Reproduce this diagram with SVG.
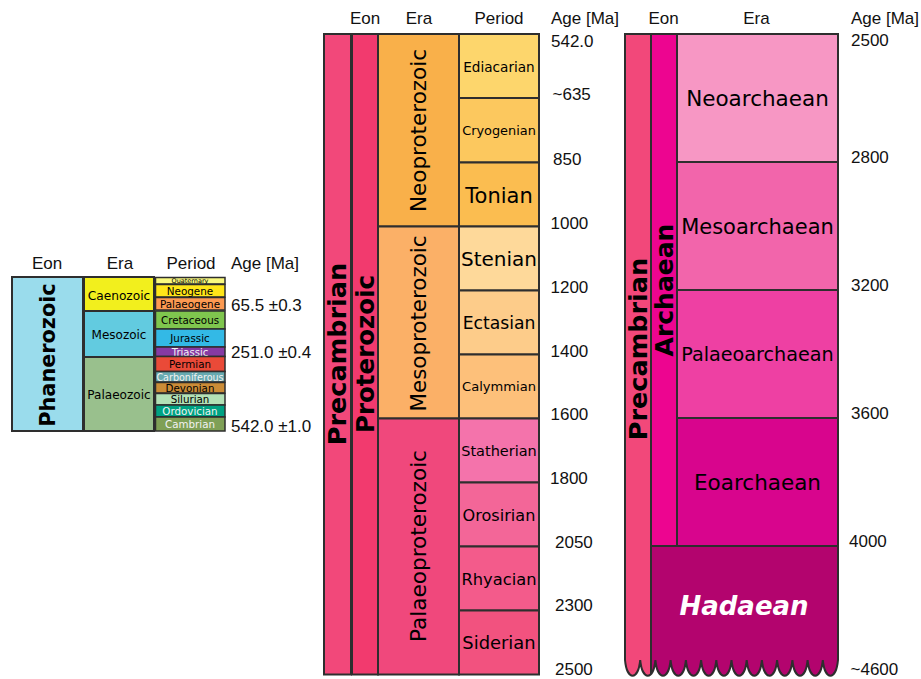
<svg xmlns="http://www.w3.org/2000/svg" xmlns:xlink="http://www.w3.org/1999/xlink" width="921" height="679" viewBox="0 0 921 679">
<style>
.b{stroke:#2e2e2e;stroke-width:2}
.t{stroke:#2e2e2e;stroke-width:1.5}
.h{font-family:"Liberation Sans",Arial,sans-serif;font-size:17px;fill:#111}
.l{font-family:"DejaVu Sans",sans-serif;fill:#000;text-anchor:middle}
.w{fill:#f2f2f2}
.bd{font-family:"DejaVu Sans",sans-serif;font-weight:bold;fill:#000;text-anchor:middle}
.m{text-anchor:middle}
</style>
<defs>
<path id="wave" d="M625,34 H838 V660 C836,681 824.8,681 822.8,660 C820.8,681 809.6,681 807.6,660 C805.6,681 794.4,681 792.4,660 C790.4,681 779.1,681 777.1,660 C775.1,681 763.9,681 761.9,660 C759.9,681 748.7,681 746.7,660 C744.7,681 733.5,681 731.5,660 C729.5,681 718.3,681 716.3,660 C714.3,681 703.1,681 701.1,660 C699.1,681 687.9,681 685.9,660 C683.9,681 672.6,681 670.6,660 C668.6,681 657.4,681 655.4,660 C653.4,681 642.2,681 640.2,660 C638.2,681 627,681 625,660 Z"/>
<clipPath id="wclip"><use xlink:href="#wave"/></clipPath>
</defs>

<!-- Left chart: Phanerozoic -->
<g id="left-headers">
<text class="h m" x="47" y="269">Eon</text>
<text class="h m" x="120" y="269">Era</text>
<text class="h m" x="191" y="269">Period</text>
<text class="h" x="231" y="269">Age [Ma]</text>
</g>
<g id="phanerozoic">
<rect class="b" x="12" y="277" width="71" height="154" fill="#9adcec"/>
<text class="bd" font-size="20.8" transform="translate(55,355) rotate(-90)">Phanerozoic</text>
</g>
<g id="caenozoic">
<rect class="b" x="84" y="277" width="70" height="34" fill="#f2ef1d"/>
<text class="l" font-size="12.2" x="119" y="299.5">Caenozoic</text>
</g>
<g id="mesozoic">
<rect class="b" x="84" y="311" width="70" height="46" fill="#62cbe0"/>
<text class="l" font-size="12" x="119" y="338.5">Mesozoic</text>
</g>
<g id="palaeozoic">
<rect class="b" x="84" y="357" width="70" height="74" fill="#99c08d"/>
<text class="l" font-size="12.1" x="119" y="398.5">Palaeozoic</text>
</g>
<g id="quaternary"><rect class="t" x="155.5" y="277.5" width="69.5" height="6.5" fill="#f9f97f"/><text class="l" font-size="6.5" x="190" y="283">Quaternary</text></g>
<g id="neogene"><rect class="t" x="155.5" y="284.5" width="69.5" height="12.5" fill="#ffe619"/><text class="l" font-size="10.4" x="190" y="294.5">Neogene</text></g>
<g id="palaeogene"><rect class="t" x="155.5" y="297.5" width="69.5" height="12.5" fill="#fd9a52"/><text class="l" font-size="10.4" x="190" y="307.5">Palaeogene</text></g>
<g id="cretaceous"><rect class="t" x="155.5" y="311" width="69.5" height="18" fill="#7fc64e"/><text class="l" font-size="10.3" x="190" y="323.7">Cretaceous</text></g>
<g id="jurassic"><rect class="t" x="155.5" y="329" width="69.5" height="18" fill="#33b9e6"/><text class="l" font-size="10.3" x="190" y="341.7">Jurassic</text></g>
<g id="triassic"><rect class="t" x="155.5" y="347" width="69.5" height="9.5" fill="#863aa4"/><text class="l w" font-size="10" x="190" y="355.5">Triassic</text></g>
<g id="permian"><rect class="t" x="155.5" y="356.5" width="69.5" height="15" fill="#ea4a38"/><text class="l" font-size="10.3" x="190" y="367.7">Permian</text></g>
<g id="carboniferous"><rect class="t" x="155.5" y="371.5" width="69.5" height="10.5" fill="#67aab0"/><text class="l w" font-size="9.6" x="190" y="380.5">Carboniferous</text></g>
<g id="devonian"><rect class="t" x="155.5" y="382.5" width="69.5" height="10.5" fill="#cb8c37"/><text class="l" font-size="10.3" x="190" y="391.5">Devonian</text></g>
<g id="silurian"><rect class="t" x="155.5" y="393.5" width="69.5" height="11.5" fill="#b3e1b6"/><text class="l" font-size="10.3" x="190" y="403">Silurian</text></g>
<g id="ordovician"><rect class="t" x="155.5" y="405" width="69.5" height="12" fill="#00a283"/><text class="l w" font-size="10.3" x="190" y="414.7">Ordovician</text></g>
<g id="cambrian"><rect class="t" x="155.5" y="417" width="69.5" height="14" fill="#7fa056"/><text class="l w" font-size="10.3" x="190" y="427.7">Cambrian</text></g>
<g id="left-ages">
<text class="h" x="231" y="311">65.5 ±0.3</text>
<text class="h" x="231" y="357.5">251.0 ±0.4</text>
<text class="h" x="231" y="432">542.0 ±1.0</text>
</g>

<!-- Middle chart: Proterozoic -->
<g id="mid-headers">
<text class="h m" x="365" y="23.5">Eon</text>
<text class="h m" x="419" y="23.5">Era</text>
<text class="h m" x="499" y="23.5">Period</text>
<text class="h" x="551" y="23.5">Age [Ma]</text>
</g>
<g id="precambrian-mid">
<rect class="b" x="324" y="34" width="27" height="640.5" fill="#f2487a"/>
<text class="bd" font-size="25.5" transform="translate(346.3,354) rotate(-90)">Precambrian</text>
</g>
<g id="proterozoic">
<rect class="b" x="352" y="34" width="26" height="640.5" fill="#f23a6e"/>
<text class="bd" font-size="24.5" transform="translate(374,354) rotate(-90)">Proterozoic</text>
</g>
<g id="neoproterozoic">
<rect class="b" x="378" y="34" width="81" height="192.5" fill="#f9b04a"/>
<text class="l" font-size="21.5" textLength="163" lengthAdjust="spacingAndGlyphs" transform="translate(426,130.5) rotate(-90)">Neoproterozoic</text>
</g>
<g id="mesoproterozoic">
<rect class="b" x="378" y="226.5" width="81" height="192" fill="#fbb067"/>
<text class="l" font-size="21.5" textLength="176" lengthAdjust="spacingAndGlyphs" transform="translate(426,323.5) rotate(-90)">Mesoproterozoic</text>
</g>
<g id="palaeoproterozoic">
<rect class="b" x="378" y="418.5" width="81" height="256" fill="#f0487c"/>
<text class="l" font-size="21.5" textLength="192" lengthAdjust="spacingAndGlyphs" transform="translate(426,546) rotate(-90)">Palaeoproterozoic</text>
</g>
<g id="ediacarian"><rect class="b" x="459" y="34" width="80" height="64" fill="#fdd66c"/><text class="l" font-size="13.6" x="499" y="72">Ediacarian</text></g>
<g id="cryogenian"><rect class="b" x="459" y="98" width="80" height="64.5" fill="#fcc85e"/><text class="l" font-size="12.9" x="499" y="135">Cryogenian</text></g>
<g id="tonian"><rect class="b" x="459" y="162.5" width="80" height="64" fill="#fbbd50"/><text class="l" font-size="21" x="499" y="202.5">Tonian</text></g>
<g id="stenian"><rect class="b" x="459" y="226.5" width="80" height="64" fill="#fed99a"/><text class="l" font-size="20" x="499" y="265.5">Stenian</text></g>
<g id="ectasian"><rect class="b" x="459" y="290.5" width="80" height="64" fill="#fdcc8a"/><text class="l" font-size="17.2" x="499" y="328.5">Ectasian</text></g>
<g id="calymmian"><rect class="b" x="459" y="354.5" width="80" height="64" fill="#fdc07a"/><text class="l" font-size="13.1" x="499" y="391">Calymmian</text></g>
<g id="statherian"><rect class="b" x="459" y="418.5" width="80" height="64" fill="#f473ab"/><text class="l" font-size="14.5" x="499" y="455.5">Statherian</text></g>
<g id="orosirian"><rect class="b" x="459" y="482.5" width="80" height="64" fill="#f36698"/><text class="l" font-size="16.1" x="499" y="520.5">Orosirian</text></g>
<g id="rhyacian"><rect class="b" x="459" y="546.5" width="80" height="64" fill="#f35b8b"/><text class="l" font-size="16.3" x="499" y="584.5">Rhyacian</text></g>
<g id="siderian"><rect class="b" x="459" y="610.5" width="80" height="64" fill="#f2527f"/><text class="l" font-size="17.9" x="499" y="648.5">Siderian</text></g>
<g id="mid-ages">
<text class="h" x="551" y="46.5">542.0</text>
<text class="h" x="552.5" y="100">~635</text>
<text class="h" x="553" y="165">850</text>
<text class="h" x="550.5" y="228.5">1000</text>
<text class="h" x="550.5" y="292.5">1200</text>
<text class="h" x="550.5" y="356.5">1400</text>
<text class="h" x="550.5" y="420">1600</text>
<text class="h" x="550" y="483.5">1800</text>
<text class="h" x="555" y="547.5">2050</text>
<text class="h" x="555" y="611">2300</text>
<text class="h" x="555" y="675">2500</text>
</g>

<!-- Right chart: Archaean / Hadaean -->
<g id="right-headers">
<text class="h m" x="663.5" y="23.5">Eon</text>
<text class="h m" x="756.5" y="23.5">Era</text>
<text class="h" x="851" y="23.5">Age [Ma]</text>
</g>
<g clip-path="url(#wclip)">
<g id="precambrian-right">
<rect class="b" x="625" y="34" width="26" height="650" fill="#f2487a"/>
<text class="bd" font-size="25.5" transform="translate(647.3,349) rotate(-90)">Precambrian</text>
</g>
<g id="archaean">
<rect class="b" x="651" y="34" width="26" height="512" fill="#ed0590"/>
<text class="bd" font-size="25" transform="translate(673,290) rotate(-90)">Archaean</text>
</g>
<g id="neoarchaean"><rect class="b" x="677" y="34" width="161" height="128" fill="#f797c4"/><text class="l" font-size="21.5" x="757.5" y="106">Neoarchaean</text></g>
<g id="mesoarchaean"><rect class="b" x="677" y="162" width="161" height="128" fill="#f265ab"/><text class="l" font-size="21" x="757.5" y="233.5">Mesoarchaean</text></g>
<g id="palaeoarchaean"><rect class="b" x="677" y="290" width="161" height="128" fill="#ee40a3"/><text class="l" font-size="19.2" x="757.5" y="361">Palaeoarchaean</text></g>
<g id="eoarchaean"><rect class="b" x="677" y="418" width="161" height="128" fill="#d8058d"/><text class="l" font-size="21.5" x="757.5" y="490">Eoarchaean</text></g>
<g id="hadaean"><rect class="b" x="651" y="546" width="187" height="140" fill="#b3046e"/><text class="bd" font-style="italic" font-size="26" x="744" y="615" style="fill:#fff">Hadaean</text></g>
</g>
<g id="connectors">
<use xlink:href="#wave" fill="none" stroke="#2e2e2e" stroke-width="2"/>
</g>
<g id="right-ages">
<text class="h" x="851" y="46">2500</text>
<text class="h" x="851" y="163">2800</text>
<text class="h" x="851" y="291">3200</text>
<text class="h" x="851" y="419">3600</text>
<text class="h" x="849" y="547">4000</text>
<text class="h" x="850.5" y="675">~4600</text>
</g>
</svg>
